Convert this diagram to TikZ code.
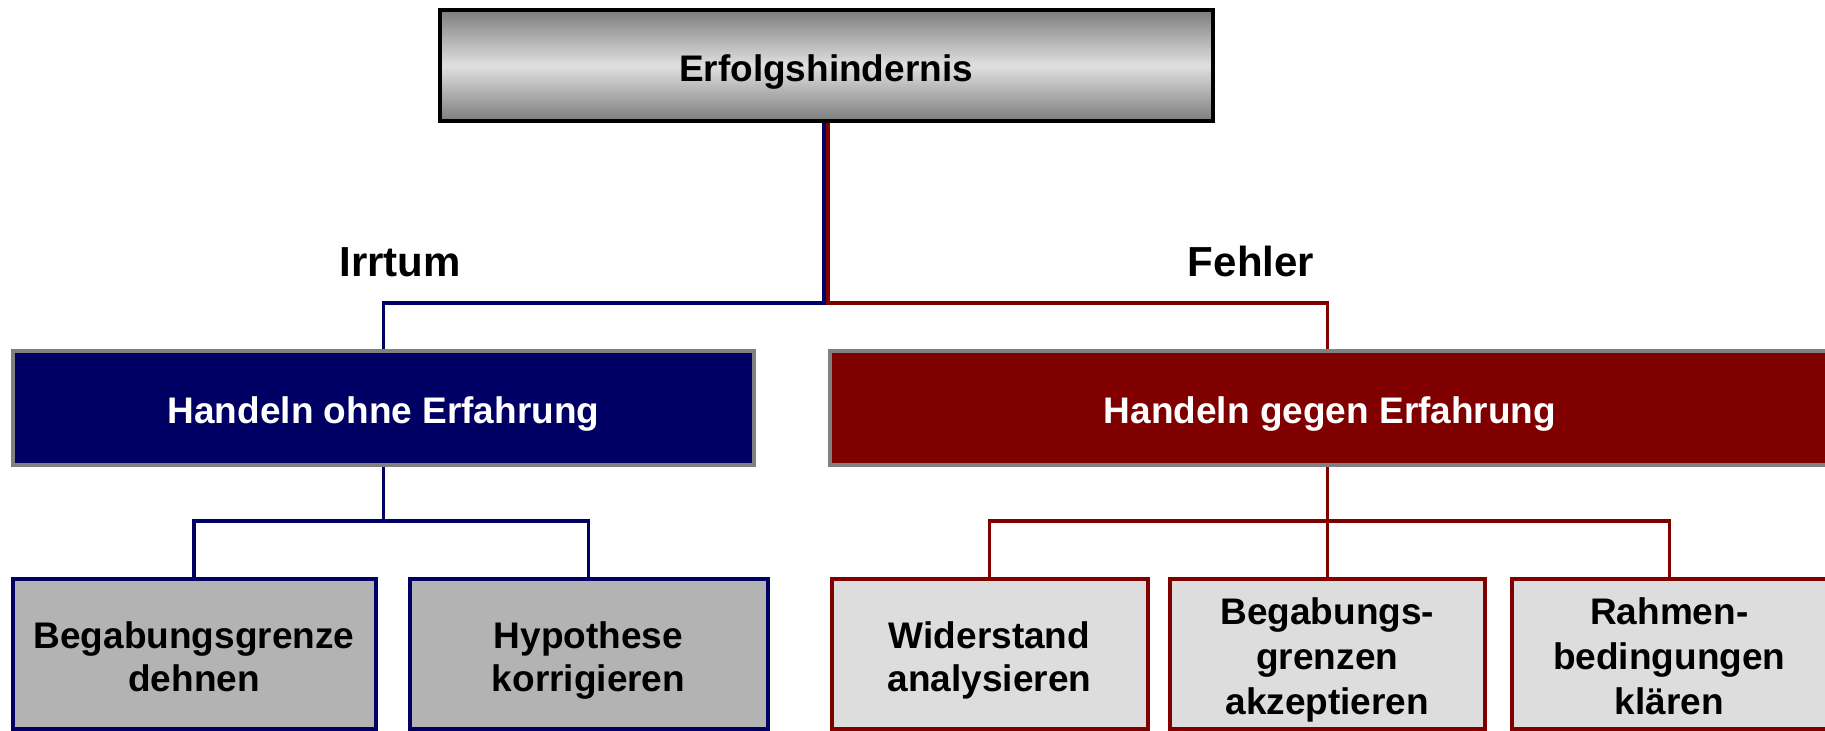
\documentclass[tikz,border=0pt]{standalone}
\usepackage{fontspec}
\setmainfont{Liberation Sans}
\definecolor{navyblue}{RGB}{0,0,100}
\definecolor{darkred}{RGB}{128,0,0}
\definecolor{framegray}{RGB}{128,128,128}
\definecolor{softgray}{RGB}{179,179,179}
\definecolor{palegray}{RGB}{221,221,221}
\definecolor{shadeout}{RGB}{125,125,125}
\definecolor{shadein}{RGB}{224,224,224}
\pgfdeclarelayer{paper}
\pgfdeclarelayer{wires}
\pgfsetlayers{paper,wires,main}
% strut that lowers the text block of a remedy box
\newcommand\leafstrut{\rule{0pt}{20pt}}
\begin{document}
\begin{tikzpicture}[x=0.5pt,y=-0.5pt,
  box/.style={inner sep=0pt, outer sep=0pt, align=center,
    font=\bfseries\fontsize{18.5}{21.5}\selectfont,
    execute at begin node=\rule{0pt}{19.5pt},
    execute at end node=\rule[-4pt]{0pt}{4pt}},
  rootbox/.style={box, draw=black, line width=2pt,
    top color=shadeout, bottom color=shadeout, middle color=shadein,
    minimum width=386.5pt, minimum height=55.5pt},
  branchbox/.style={box, draw=framegray, line width=2pt, text=white,
    minimum height=57pt},
  leafbox/.style={box, line width=2pt, minimum height=75.25pt},
  tallleaf/.style={leafbox, font=\bfseries\fontsize{18.5}{22.5}\selectfont},
  bluewire/.style={draw=navyblue, line width=1.75pt},
  redwire/.style={draw=darkred, line width=1.75pt},
  kind/.style={anchor=base, inner sep=0pt,
    font=\bfseries\fontsize{21}{25}\selectfont}
]
\useasboundingbox (0,0) rectangle (1825,730);
\begin{pgfonlayer}{paper}
  \fill[white] (0,0) rectangle (1825,730);
\end{pgfonlayer}
\clip (0,0) rectangle (1825,730);

% root and the two kinds of obstacle
\node[rootbox] (root) at (826,65.5) {Erfolgshindernis};
\node[branchbox, fill=navyblue, minimum width=370.5pt] (ohne) at (383.5,408)
  {Handeln ohne Erfahrung};
\node[branchbox, fill=darkred, minimum width=500pt] (gegen) at (1330,408)
  {Handeln gegen Erfahrung};

\node[kind] (irrtum) at (400,276) {Irrtum};
\node[kind] (fehler) at (1251,276) {Fehler};

% remedies
\node[leafbox, fill=softgray, draw=navyblue, minimum width=181.5pt] (l1)
  at (194,653.75) {\leafstrut Begabungsgrenze\\dehnen};
\node[leafbox, fill=softgray, draw=navyblue, minimum width=179pt] (l2)
  at (588.5,653.75) {\leafstrut Hypothese\\korrigieren};
\node[leafbox, fill=palegray, draw=darkred, minimum width=158pt] (r1)
  at (989.5,653.75) {\leafstrut Widerstand\\analysieren};
\node[tallleaf, fill=palegray, draw=darkred, minimum width=157.75pt] (r2)
  at (1327.25,653.75) {\leafstrut Begabungs-\\grenzen\\akzeptieren};
\node[tallleaf, fill=palegray, draw=darkred, minimum width=157.75pt] (r3)
  at (1669.25,653.75) {\leafstrut Rahmen-\\bedingungen\\klären};

% tree connectors
\coordinate (topfork) at (826,303);
\coordinate (lfork) at (383.5,521);
\coordinate (rfork) at (1327.25,521);
\begin{pgfonlayer}{wires}
  \draw[bluewire] ([xshift=-1pt]root.south) -- ([xshift=-1pt]root.south |- topfork)
    -| (ohne.north);
  \draw[redwire] ([xshift=1pt]root.south) -- ([xshift=1pt]root.south |- topfork)
    -| (r2.north |- gegen.north);
  \draw[bluewire] (ohne.south) -- (lfork);
  \draw[bluewire] (l1.north) |- (lfork) -| (l2.north);
  \draw[redwire] (r2.north |- gegen.south) -- (r2.north);
  \draw[redwire] (r1.north) |- (rfork) -| (r3.north);
\end{pgfonlayer}
\end{tikzpicture}
\end{document}
